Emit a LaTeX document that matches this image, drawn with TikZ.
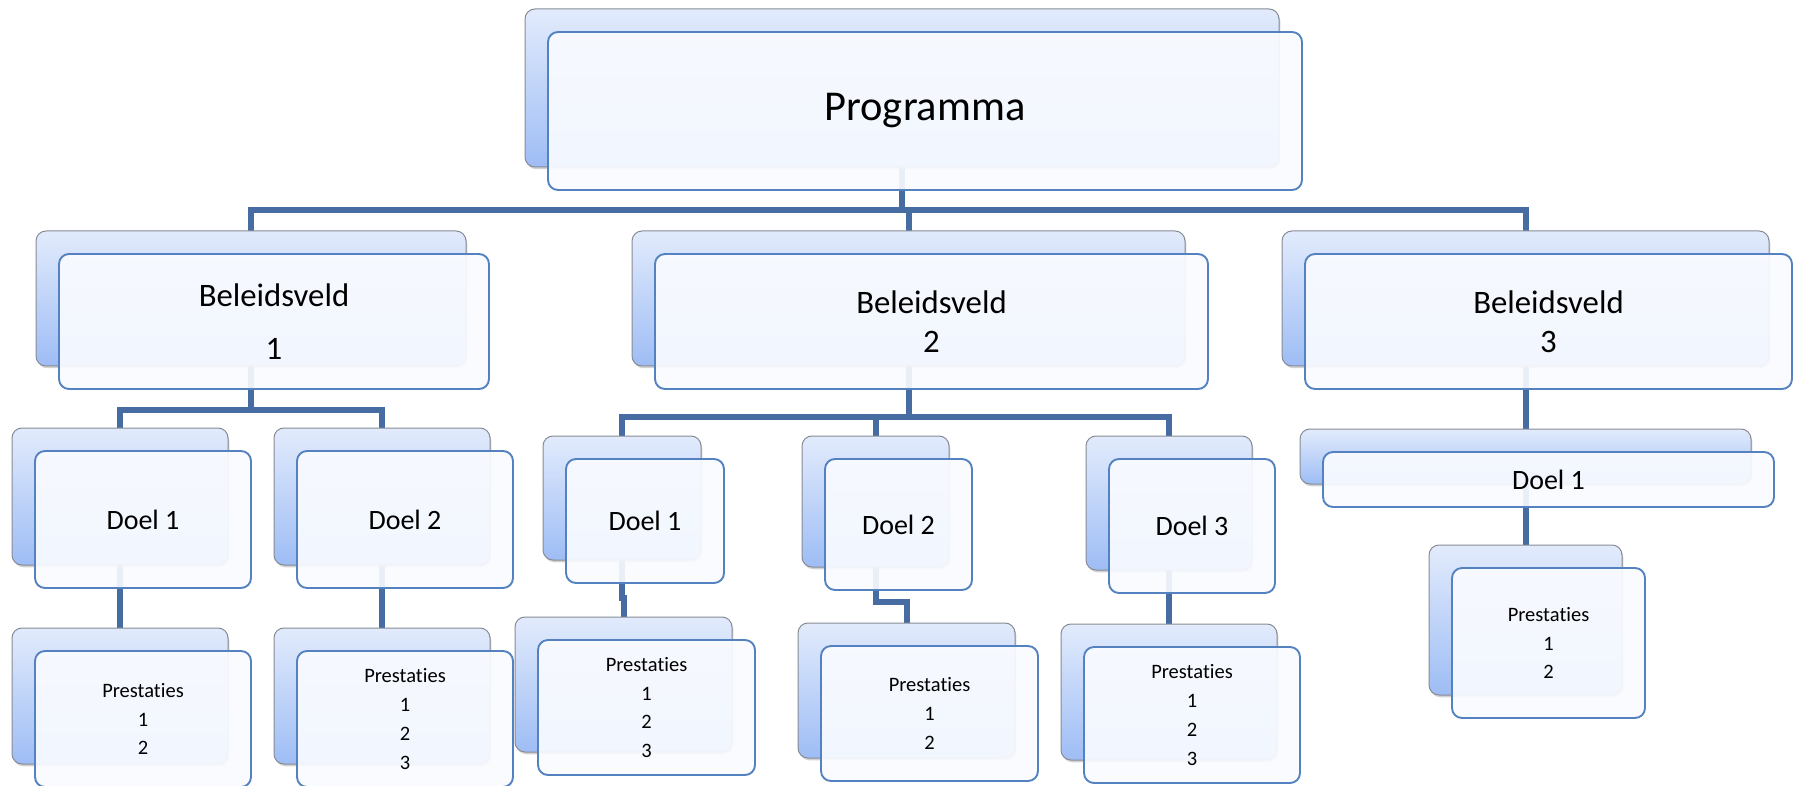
\documentclass[tikz,border=0pt]{standalone}
\usepackage{fontspec}
\setmainfont{Carlito}[Ligatures=NoCommon]
\usetikzlibrary{shadows}
\pgfdeclarelayer{background}
\pgfsetlayers{background,main}
\definecolor{conncol}{RGB}{70,108,162}
\definecolor{frontline}{RGB}{84,130,192}
\definecolor{frontfill}{RGB}{249,251,255}
\definecolor{backtop}{RGB}{226,235,252}
\definecolor{backbot}{RGB}{158,189,245}
\definecolor{backline}{RGB}{135,140,150}
\tikzset{
  backbox/.style={anchor=north west, rectangle, rounded corners=4pt, draw=backline, line width=0.4pt,
    top color=backtop, bottom color=backbot,
    drop shadow={shadow xshift=0.5pt, shadow yshift=-0.9pt, opacity=0.35},
    inner sep=0pt, outer sep=0pt},
  frontbox/.style={anchor=north west, rectangle, rounded corners=4pt, draw=frontline, line width=0.75pt,
    fill=frontfill, fill opacity=0.92, text opacity=1, text=black,
    inner sep=0pt, outer sep=0pt, align=center},
  conn/.style={draw=conncol, line width=2.4pt},
  progfont/.style={font=\fontsize{17}{20}\selectfont},
  bvfonta/.style={font=\fontsize{13.1}{21.2}\selectfont},
  bvfont/.style={font=\fontsize{13.1}{15.4}\selectfont},
  doelfont/.style={font=\fontsize{11.2}{13.5}\selectfont},
  presfont/.style={font=\fontsize{8.2}{11.5}\selectfont}
}
% #1 name, #2 x1, #3 y1, #4 x2, #5 y2, #6 font style, #7 text
\newcommand\orgbox[7]{%
  \node[backbox, minimum width={(#4-#2)*0.4pt}, minimum height={(#5-#3)*0.4pt}] (#1B) at (#2,#3) {};
  \node[frontbox, #6, minimum width={(#4-#2)*0.4pt}, minimum height={(#5-#3)*0.4pt}] (#1F) at (#2+23,#3+23) {#7};
}
\begin{document}
\begin{tikzpicture}[x=0.4pt, y=-0.4pt]
\useasboundingbox (0,0) rectangle (1796,786);
\begin{pgfonlayer}{background}
\fill[white] (0,0) rectangle (1796,786);
\end{pgfonlayer}

% bus levels
\coordinate (bus0) at (0,210);
\coordinate (bus1) at (0,410);
\coordinate (bus2) at (0,417);
\coordinate (bus3) at (0,598);
\coordinate (bus4) at (0,602);

\orgbox{prog}{525}{9}{1279}{167}{progfont}{Programma}

\orgbox{bva}{36}{231}{466}{366}{bvfonta}{Beleidsveld\\1}
\orgbox{bvb}{632}{231}{1185}{366}{bvfont}{Beleidsveld\\2}
\orgbox{bvc}{1282}{231}{1769}{366}{bvfont}{Beleidsveld\\3}

\orgbox{daa}{12}{428}{228}{565}{doelfont}{Doel 1}
\orgbox{dab}{274}{428}{490}{565}{doelfont}{Doel 2}
\orgbox{paa}{12}{628}{228}{764}{presfont}{Prestaties\\1\\2}
\orgbox{pab}{274}{628}{490}{764}{presfont}{Prestaties\\1\\2\\3}

\orgbox{dba}{543}{436}{701}{560}{doelfont}{Doel 1}
\orgbox{dbb}{802}{436}{949}{567}{doelfont}{Doel 2}
\orgbox{dbc}{1086}{436}{1252}{570}{doelfont}{Doel 3}
\orgbox{pba}{515}{617}{732}{752}{presfont}{Prestaties\\1\\2\\3}
\orgbox{pbb}{798}{623}{1015}{758}{presfont}{Prestaties\\1\\2}
\orgbox{pbc}{1061}{624}{1277}{760}{presfont}{Prestaties\\1\\2\\3}

\orgbox{dca}{1300}{429}{1751}{484}{doelfont}{Doel 1}
\orgbox{pca}{1429}{545}{1622}{695}{presfont}{Prestaties\\1\\2}

\begin{pgfonlayer}{background}
\draw[conn] (progB.south) -- (progB.south |- bus0) -| (bvaB.north);
\draw[conn] (progB.south) -- (progB.south |- bus0) -| (bvbB.north);
\draw[conn] (progB.south) -- (progB.south |- bus0) -| (bvcB.north);

\draw[conn] (bvaB.south) -- (bvaB.south |- bus1) -| (daaB.north);
\draw[conn] (bvaB.south) -- (bvaB.south |- bus1) -| (dabB.north);
\draw[conn] (daaB.south) -- (paaB.north);
\draw[conn] (dabB.south) -- (pabB.north);

\draw[conn] (bvbB.south) -- (bvbB.south |- bus2) -| (dbaB.north);
\draw[conn] (bvbB.south) -- (bvbB.south |- bus2) -| (dbbB.north);
\draw[conn] (bvbB.south) -- (bvbB.south |- bus2) -| (dbcB.north);
\draw[conn] (dbaB.south) -- (dbaB.south |- bus3) -| (pbaB.north);
\draw[conn] (dbbB.south) -- (dbbB.south |- bus4) -| (pbbB.north);
\draw[conn] (dbcB.south) -- (pbcB.north);

\draw[conn] (bvcB.south) -- (dcaB.north);
\draw[conn] (dcaB.south) -- (pcaB.north);
\end{pgfonlayer}
\end{tikzpicture}
\end{document}
